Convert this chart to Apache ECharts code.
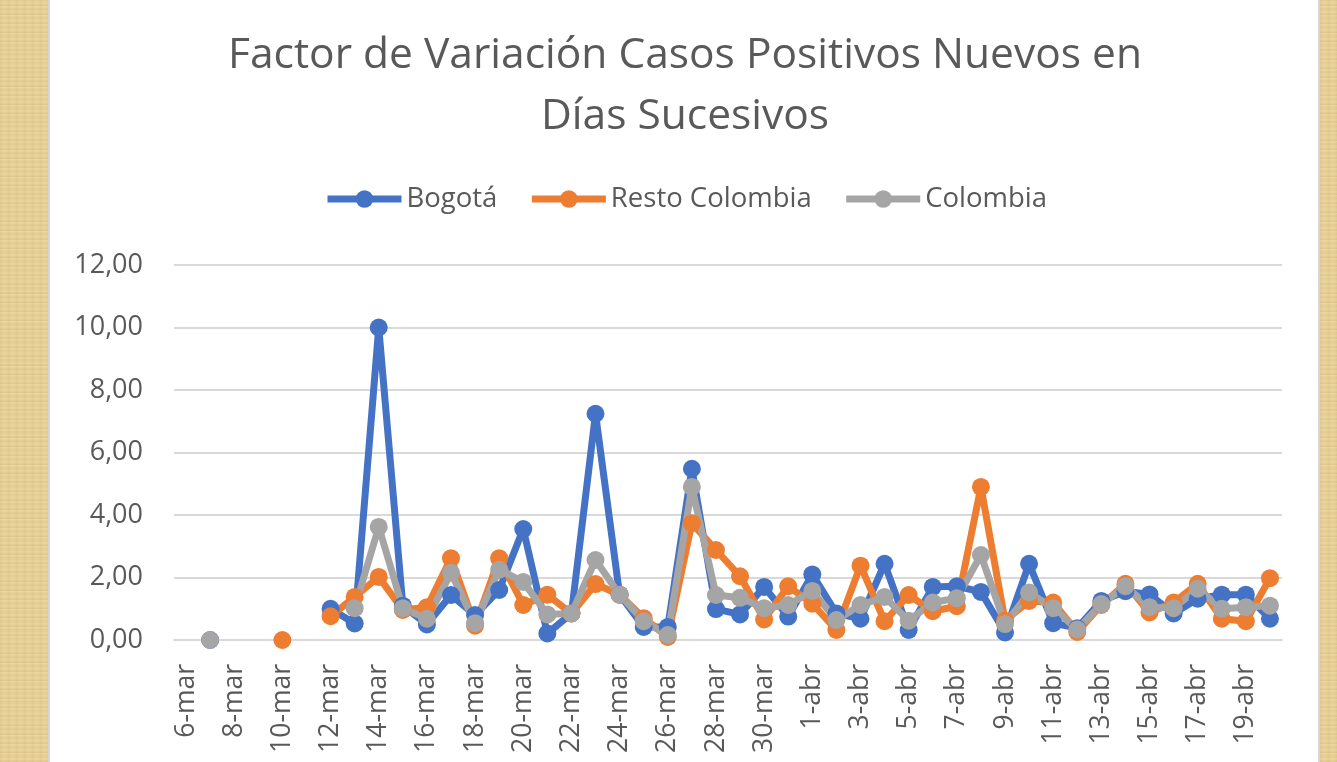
<!DOCTYPE html>
<html>
<head>
<meta charset="utf-8">
<script src="https://cdn.jsdelivr.net/npm/echarts@6/dist/echarts.min.js"></script>
<style>
html,body{margin:0;padding:0;width:1337px;height:762px;overflow:hidden;}
body{background-color:#e6cf95;
background-image:repeating-linear-gradient(0deg, rgba(180,150,80,0.18) 0px, rgba(255,240,200,0.15) 3px, rgba(200,170,100,0.12) 6px, rgba(255,245,210,0.2) 9px),
repeating-linear-gradient(90deg, rgba(190,160,90,0.15) 0px, rgba(255,240,200,0.12) 4px, rgba(210,180,110,0.1) 8px);}
#paper{position:absolute;left:48px;top:0;width:1272px;height:762px;background:#fff;border-left:2px solid #d6d6d6;border-right:2px solid #d6d6d6;box-sizing:border-box;}
#chart{position:absolute;left:0;top:0;width:1337px;height:762px;}
</style>
</head>
<body>
<div id="paper"></div>
<div id="chart"></div>
<script>
const categories = ['6-mar','7-mar','8-mar','9-mar','10-mar','11-mar','12-mar','13-mar','14-mar','15-mar','16-mar','17-mar','18-mar','19-mar','20-mar','21-mar','22-mar','23-mar','24-mar','25-mar','26-mar','27-mar','28-mar','29-mar','30-mar','31-mar','1-abr','2-abr','3-abr','4-abr','5-abr','6-abr','7-abr','8-abr','9-abr','10-abr','11-abr','12-abr','13-abr','14-abr','15-abr','16-abr','17-abr','18-abr','19-abr','20-abr'];
const bogota = [null,0,null,null,null,null,1.00,0.53,10.00,1.10,0.50,1.44,0.80,1.60,3.55,0.21,0.85,7.24,1.45,0.42,0.42,5.48,0.99,0.82,1.70,0.75,2.10,0.85,0.68,2.44,0.32,1.70,1.72,1.54,0.24,2.44,0.54,0.38,1.25,1.56,1.46,0.85,1.32,1.45,1.45,0.68];
const resto = [null,null,null,null,0,null,0.76,1.38,2.02,0.96,1.05,2.62,0.46,2.62,1.12,1.45,0.85,1.79,1.45,0.70,0.10,3.74,2.88,2.04,0.66,1.72,1.16,0.32,2.38,0.60,1.44,0.92,1.08,4.90,0.62,1.25,1.20,0.26,1.12,1.80,0.88,1.20,1.80,0.68,0.60,1.98];
const colombia = [null,0,null,null,null,null,null,1.02,3.62,1.02,0.68,2.15,0.54,2.25,1.86,0.82,0.85,2.56,1.45,0.60,0.16,4.90,1.44,1.35,1.02,1.12,1.57,0.64,1.12,1.38,0.62,1.20,1.34,2.72,0.51,1.52,1.02,0.34,1.15,1.72,1.05,1.02,1.64,1.00,1.05,1.10];
const seriesNames = ['Bogotá','Resto Colombia','Colombia'];
const colors = ['#4472C4','#ED7D31','#A5A5A5'];
const titleText = 'Factor de Variación Casos Positivos Nuevos en\nDías Sucesivos';

const chart = echarts.init(document.getElementById('chart'), null, {renderer:'canvas'});
const font = "'Open Sans', 'Noto Sans', sans-serif";
const mk = (name, data, color) => ({
  name, type:'line', data, color,
  symbol:'circle', symbolSize:18,
  showAllSymbol:true,
  connectNulls:false,
  lineStyle:{width:7, color},
  itemStyle:{color},
  z: 2
});
chart.setOption({
  animation:false,
  backgroundColor:'transparent',
  textStyle:{fontFamily:font},
  title:{text:titleText, left:680, textAlign:'center', top:20,
    textStyle:{fontSize:42.5, fontWeight:'normal', color:'#595959', lineHeight:61, fontFamily:font}},
  legend:{top:185, left:324, padding:0, itemWidth:74, itemHeight:22, itemGap:31,
    lineStyle:{width:7},
    textStyle:{fontSize:27.5, color:'#595959', fontFamily:font},
    data:seriesNames},
  grid:{left:174, right:55, top:265, bottom:122},
  xAxis:{type:'category', data:categories, boundaryGap:true,
    axisLine:{show:true, lineStyle:{color:'#d9d9d9', width:2}},
    axisTick:{show:false},
    axisLabel:{rotate:90, interval:1, fontSize:26.5, color:'#595959', margin:24, fontFamily:font}},
  yAxis:{type:'value', min:0, max:12, interval:2,
    axisLine:{show:false}, axisTick:{show:false},
    splitLine:{lineStyle:{color:'#d9d9d9', width:2}},
    axisLabel:{fontSize:27, color:'#595959', margin:31, fontFamily:font,
      formatter:v => v.toFixed(2).replace('.', ',')}},
  series:[mk(seriesNames[0], bogota, colors[0]), mk(seriesNames[1], resto, colors[1]), mk(seriesNames[2], colombia, colors[2])]
});
</script>
</body>
</html>
